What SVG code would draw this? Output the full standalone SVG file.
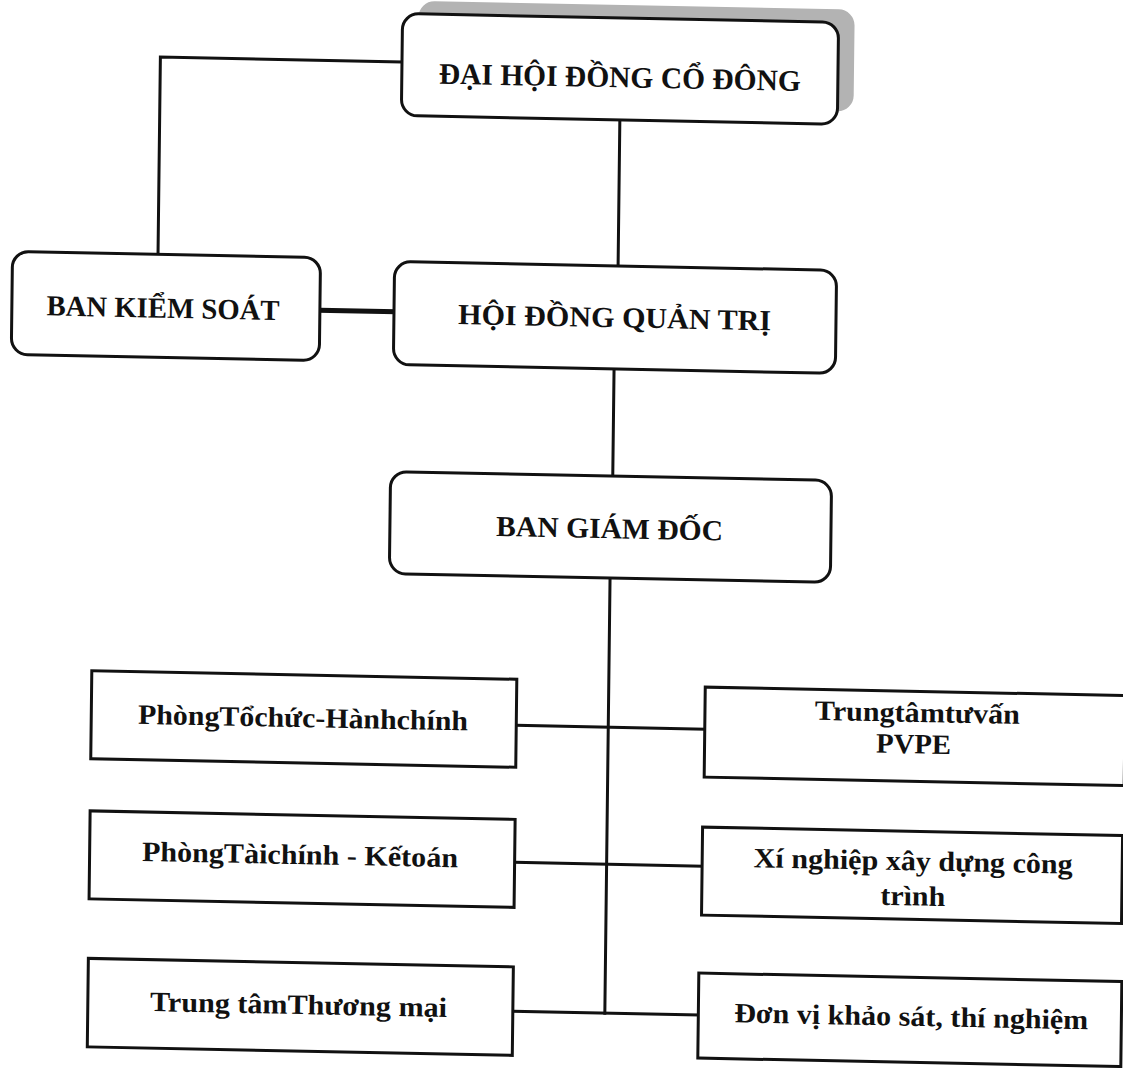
<svg xmlns="http://www.w3.org/2000/svg" width="1123" height="1068" viewBox="0 0 1123 1068">
<style>
.box{fill:#fff;stroke:#111;stroke-width:3}
.shadow{fill:#b3b3b3;stroke:none}
.ln{fill:none;stroke:#111;stroke-width:3;stroke-linecap:square}
.thick{stroke-width:5}
.t{font-family:"Liberation Serif","Times New Roman",serif;font-weight:bold;fill:#111;text-anchor:middle}
.big{font-size:30px}
.mid{font-size:29px}
.sm{font-size:28px}
</style>
<rect width="1123" height="1068" fill="#fff"/>
<g transform="matrix(1 0.02 -0.012 1 6.48 -12)">
<g id="connectors">
<path class="ln" d="M396.3 66 H154.7 V263.2"/>
<path class="ln thick" d="M317.2 315.9 H391.3"/>
<path class="ln" d="M614.8 119.6 V265.7"/>
<path class="ln" d="M612 368.7 V475.8"/>
<path class="ln" d="M610.5 577.8 V1013"/>
<path class="ln" d="M518.5 727 H707"/>
<path class="ln" d="M518.5 864 H706"/>
<path class="ln" d="M518.5 1013 H704"/>
</g>
<g id="dai-hoi-dong-co-dong">
<rect class="shadow" x="412.3" y="4.6" width="436" height="102" rx="16"/>
<rect class="box" x="396.3" y="17.6" width="436" height="102" rx="16"/>
<text class="t big" x="614.3" y="87" textLength="362" lengthAdjust="spacingAndGlyphs">ĐẠI HỘI ĐỒNG CỔ ĐÔNG</text>
</g>
<g id="ban-kiem-soat">
<rect class="box" x="9.2" y="263.2" width="308" height="103" rx="16"/>
<text class="t mid" x="160.4" y="326.5" textLength="233" lengthAdjust="spacingAndGlyphs">BAN KIỂM SOÁT</text>
</g>
<g id="hoi-dong-quan-tri">
<rect class="box" x="391.3" y="265.7" width="442" height="103" rx="16"/>
<text class="t mid" x="612" y="327" textLength="313" lengthAdjust="spacingAndGlyphs">HỘI ĐỒNG QUẢN TRỊ</text>
</g>
<g id="ban-giam-doc">
<rect class="box" x="389.8" y="475.8" width="441" height="102" rx="16"/>
<text class="t mid" x="609.5" y="538" textLength="227" lengthAdjust="spacingAndGlyphs">BAN GIÁM ĐỐC</text>
</g>
<g id="phong-to-chuc-hanh-chinh">
<rect class="box" x="93.5" y="680.9" width="425" height="88"/>
<text class="t sm" x="305.3" y="733" textLength="330" lengthAdjust="spacingAndGlyphs">PhòngTổchức-Hànhchính</text>
</g>
<g id="phong-tai-chinh-ke-toan">
<rect class="box" x="93.5" y="821" width="425" height="88"/>
<text class="t sm" x="303.9" y="870" textLength="316" lengthAdjust="spacingAndGlyphs">PhòngTàichính - Kếtoán</text>
</g>
<g id="trung-tam-thuong-mai">
<rect class="box" x="93.5" y="968.5" width="425" height="88.5"/>
<text class="t sm" x="304.2" y="1020" textLength="297" lengthAdjust="spacingAndGlyphs">Trung tâmThương mại</text>
</g>
<g id="trung-tam-tu-van">
<rect class="box" x="707" y="685" width="420" height="90"/>
<text class="t sm" x="919.4" y="715.5" textLength="205" lengthAdjust="spacingAndGlyphs">Trungtâmtưvấn</text>
<text class="t sm" x="916" y="747" textLength="75" lengthAdjust="spacingAndGlyphs">PVPE</text>
</g>
<g id="xi-nghiep-xay-dung">
<rect class="box" x="706" y="825" width="420" height="88"/>
<text class="t sm" x="917" y="864" textLength="319" lengthAdjust="spacingAndGlyphs">Xí nghiệp xây dựng công</text>
<text class="t sm" x="917" y="899" textLength="65" lengthAdjust="spacingAndGlyphs">trình</text>
</g>
<g id="don-vi-khao-sat">
<rect class="box" x="704" y="971" width="423" height="85"/>
<text class="t sm" x="916.9" y="1019.5" textLength="354" lengthAdjust="spacingAndGlyphs">Đơn vị khảo sát, thí nghiệm</text>
</g>
</g>
</svg>
